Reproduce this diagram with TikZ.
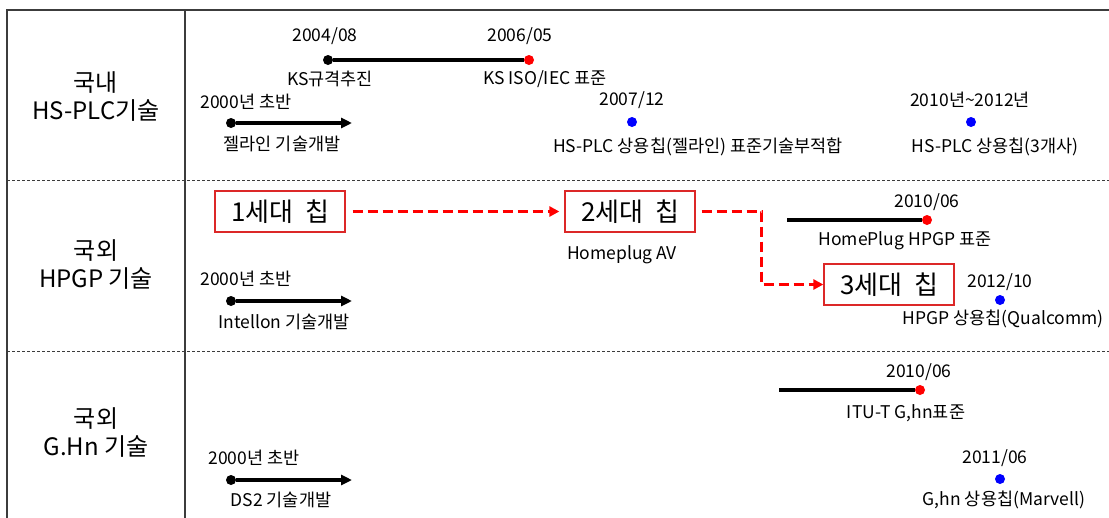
\documentclass[tikz,border=0pt]{standalone}
\usepackage{fontspec}
\setmainfont{Noto Sans CJK KR}
\usetikzlibrary{arrows.meta}
\definecolor{boxred}{RGB}{220,40,40}
\definecolor{framegray}{RGB}{60,60,60}
\tikzset{
  dotb/.style={circle,fill=black,inner sep=0pt,minimum size=10pt},
  dotr/.style={dotb,fill=red},
  dotu/.style={dotb,fill=blue},
  lbl/.style={font=\fontsize{17.5}{19}\selectfont,inner sep=0pt},
  rowlbl/.style={font=\fontsize{24}{28}\selectfont,align=center,inner sep=0pt},
  genbox/.style={draw=boxred,line width=1.3pt,minimum width=130pt,minimum height=41pt,
    inner sep=0pt,font=\fontsize{26}{28}\selectfont},
  span/.style={line width=3.8pt},
  devarrow/.style={line width=3.5pt,-{Triangle[length=11pt,width=10pt]}},
  gendash/.style={red,line width=3pt,dash pattern=on 10pt off 5pt,
    -{Triangle[length=10pt,width=10pt]}},
  rowsep/.style={framegray,line width=1pt,dash pattern=on 3pt off 2pt}
}
\begin{document}
\begin{tikzpicture}[x=1pt,y=-1pt]
  \useasboundingbox (0,0) rectangle (1109,517);
  % frame
  \draw[framegray,line width=1.5pt] (7,530)--(7,10)--(1115,10);
  \draw[framegray,line width=2pt] (185,10)--(185,530);
  \draw[rowsep] (7,180)--(1109,180);
  \draw[rowsep] (7,351)--(1109,351);
  % row labels
  \node[rowlbl] (row1) at (96,97) {국내\\HS-PLC기술};
  \node[rowlbl] (row2) at (96,265) {국외\\HPGP 기술};
  \node[rowlbl] (row3) at (96,433) {국외\\G.Hn 기술};

  % row 1
  \node[dotb] (ksA) at (328,60) {};
  \node[dotr] (ksB) at (529,60) {};
  \draw[span] (ksA) -- (ksB);
  \node[lbl] (ksAd) at (325,36) {2004/08};
  \node[lbl] (ksBd) at (520,36) {2006/05};
  \node[lbl] (ksAt) at (330,79) {KS규격추진};
  \node[lbl] (ksBt) at (545,79) {KS ISO/IEC 표준};
  \node[dotb] (jlA) at (231,123) {};
  \coordinate (jlB) at (352,123);
  \draw[devarrow] (jlA) -- (jlB);
  \node[lbl] (jlAd) at (246,102) {2000년 초반};
  \node[lbl] (jlAt) at (282,144) {젤라인 기술개발};
  \node[dotu] (hsA) at (632,122) {};
  \node[lbl] (hsAd) at (632,100) {2007/12};
  \node[lbl] (hsAt) at (698,147) {HS-PLC 상용칩(젤라인) 표준기술부적합};
  \node[dotu] (hsB) at (971,122) {};
  \node[lbl] (hsBd) at (970,100) {2010년\textasciitilde 2012년};
  \node[lbl] (hsBt) at (995,147) {HS-PLC 상용칩(3개사)};

  % row 2
  \node[genbox] (gen1) at (280,211.5) {1세대\ \ 칩};
  \node[genbox] (gen2) at (630,211.5) {2세대\ \ 칩};
  \node[genbox] (gen3) at (889,284.5) {3세대\ \ 칩};
  \draw[gendash,shorten <=7pt,shorten >=5pt] (gen1.east) -- (gen2.west);
  \draw[gendash,shorten <=6pt] (gen2.east) -- ++(66,0) |- (gen3.west);
  \node[lbl] (avt) at (622,255) {Homeplug AV};
  \node[dotr] (hpB) at (927,220) {};
  \coordinate (hpA) at (787,220);
  \draw[span] (hpA) -- (hpB);
  \node[lbl] (hpBd) at (927,202) {2010/06};
  \node[lbl] (hpBt) at (905,241) {HomePlug HPGP 표준};
  \node[dotu] (qcA) at (1000,300) {};
  \node[lbl] (qcAd) at (1000,282) {2012/10};
  \node[lbl] (qcAt) at (1003,319) {HPGP 상용칩(Qualcomm)};
  \node[dotb] (inA) at (231,301) {};
  \coordinate (inB) at (352,301);
  \draw[devarrow] (inA) -- (inB);
  \node[lbl] (inAd) at (246,279) {2000년 초반};
  \node[lbl] (inAt) at (284,322) {Intellon 기술개발};

  % row 3
  \node[dotr] (itB) at (920,390) {};
  \coordinate (itA) at (779,390);
  \draw[span] (itA) -- (itB);
  \node[lbl] (itBd) at (919,372) {2010/06};
  \node[lbl] (itBt) at (906,413) {ITU-T G,hn표준};
  \node[dotu] (mvA) at (1000,479) {};
  \node[lbl] (mvAd) at (995,458) {2011/06};
  \node[lbl] (mvAt) at (1004,500) {G,hn 상용칩(Marvell)};
  \node[dotb] (dsA) at (231,480) {};
  \coordinate (dsB) at (352,480);
  \draw[devarrow] (dsA) -- (dsB);
  \node[lbl] (dsAd) at (254,458) {2000년 초반};
  \node[lbl] (dsAt) at (281,500) {DS2 기술개발};
\end{tikzpicture}
\end{document}
